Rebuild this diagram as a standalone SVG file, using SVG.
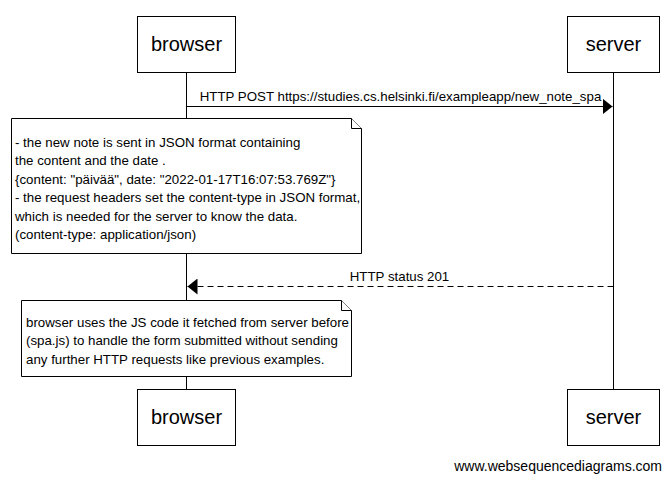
<svg xmlns="http://www.w3.org/2000/svg" width="671" height="481" viewBox="0 0 671 481">
<style>
text { font-family: "Liberation Sans", Arial, sans-serif; fill: #000; }
.actor rect { fill: #fff; stroke: #000; stroke-width: 1; }
.actor text { font-size: 20px; text-anchor: middle; }
.life { stroke: #000; stroke-width: 1; }
.msg { stroke: #000; stroke-width: 1; fill: none; }
.dash { stroke-dasharray: 6,4; }
.lbl { font-size: 13.3px; text-anchor: middle; }
.note path { fill: #fff; stroke: #000; stroke-width: 1; }
.note text { font-size: 13.3px; }
.foot { font-size: 14px; text-anchor: end; }
</style>
<defs>
<marker id="ah" markerWidth="11" markerHeight="16" refX="10" refY="8" orient="auto" markerUnits="userSpaceOnUse">
<path d="M0,0 L10,8 L0,16 Z" fill="#000"/>
</marker>
</defs>
<rect width="671" height="481" fill="#fff"/>
<g id="lifelines">
<line class="life" x1="186.5" y1="73" x2="186.5" y2="389"/>
<line class="life" x1="613.5" y1="73" x2="613.5" y2="389"/>
</g>
<g id="connectors">
<line class="msg" x1="186.5" y1="106.5" x2="612.5" y2="106.5" marker-end="url(#ah)"/>
<text class="lbl" x="400.5" y="101">HTTP POST https://studies.cs.helsinki.fi/exampleapp/new_note_spa</text>
<line class="msg dash" x1="613.5" y1="286.5" x2="187.5" y2="286.5" marker-end="url(#ah)"/>
<text class="lbl" x="399.5" y="281">HTTP status 201</text>
</g>
<g id="browser-top" class="actor">
<rect x="137.5" y="16.5" width="98" height="56"/>
<text x="186.5" y="51">browser</text>
</g>
<g id="server-top" class="actor">
<rect x="567.5" y="16.5" width="92" height="56"/>
<text x="613.5" y="51">server</text>
</g>
<g id="note1" class="note">
<path d="M11.5,118.5 H351.5 L361.5,128.5 V253.5 H11.5 Z"/>
<path d="M351.5,118.5 V128.5 H361.5"/>
<text x="15" y="147">- the new note is sent in JSON format containing</text>
<text x="15" y="165">the content and the date .</text>
<text x="15" y="184">{content: "päivää", date: "2022-01-17T16:07:53.769Z"}</text>
<text x="15" y="202">- the request headers set the content-type in JSON format,</text>
<text x="15" y="221">which is needed for the server to know the data.</text>
<text x="15" y="239">(content-type: application/json)</text>
</g>
<g id="note2" class="note">
<path d="M21.5,300.5 H341.5 L351.5,310.5 V376.5 H21.5 Z"/>
<path d="M341.5,300.5 V310.5 H351.5"/>
<text x="26" y="327">browser uses the JS code it fetched from server before</text>
<text x="26" y="345">(spa.js) to handle the form submitted without sending</text>
<text x="26" y="364">any further HTTP requests like previous examples.</text>
</g>
<g id="browser-bottom" class="actor">
<rect x="137.5" y="389.5" width="98" height="56"/>
<text x="186.5" y="424">browser</text>
</g>
<g id="server-bottom" class="actor">
<rect x="567.5" y="389.5" width="92" height="56"/>
<text x="613.5" y="424">server</text>
</g>
<text class="foot" x="662" y="471">www.websequencediagrams.com</text>
</svg>
